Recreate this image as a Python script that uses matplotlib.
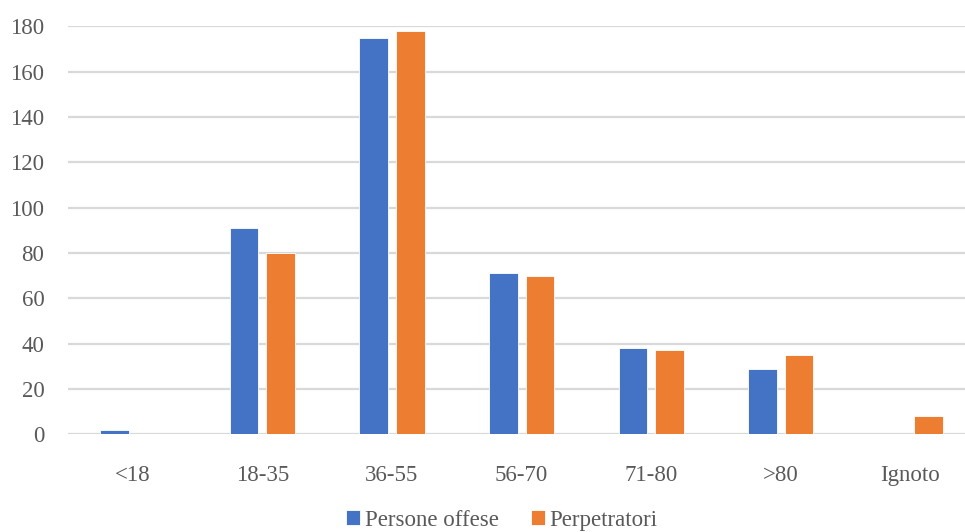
import numpy as np
import matplotlib.pyplot as plt

categories = ["<18", "18-35", "36-55", "56-70", "71-80", ">80", "Ignoto"]
persone_offese = [2, 91, 175, 71, 38, 29, 0]
perpetratori = [0, 80, 178, 70, 37, 35, 8]
yticks = [0, 20, 40, 60, 80, 100, 120, 140, 160, 180]

text_col = "#595959"
plt.rcParams["font.family"] = ["Liberation Serif", "DejaVu Serif"]
plt.rcParams["font.size"] = 16

fig = plt.figure(figsize=(9.65, 5.32), dpi=100)
ax = fig.add_axes([0.0705, 0.1836, 0.94, 0.7666])

x = np.arange(len(categories))
w = 0.22
off = 0.141
ax.bar(x - off, persone_offese, w, color="#4472C4", edgecolor="white",
       linewidth=0.6, label="Persone offese", zorder=3)
ax.bar(x + off, perpetratori, w, color="#ED7D31", edgecolor="white",
       linewidth=0.6, label="Perpetratori", zorder=3)

ax.set_xlim(-0.5, len(categories) - 0.5)
ax.set_ylim(0, 180)
ax.set_yticks(yticks)
ax.set_xticks(x)
ax.set_xticklabels(categories)
ax.grid(axis="y", color="#D9D9D9", linewidth=1.6, zorder=0)
ax.set_axisbelow(True)
for s in ax.spines.values():
    s.set_visible(False)
ax.tick_params(axis="both", length=0, colors=text_col, labelsize=16.5)
ax.tick_params(axis="y", pad=17)
ax.tick_params(axis="x", pad=22)

fig.legend(loc="center", bbox_to_anchor=(0.52, 0.022), ncol=2, frameon=False,
           fontsize=16.5, labelcolor=text_col, handlelength=0.6, handleheight=0.6,
           handletextpad=0.2, columnspacing=1.4)

fig.savefig("out.png", dpi=100)
